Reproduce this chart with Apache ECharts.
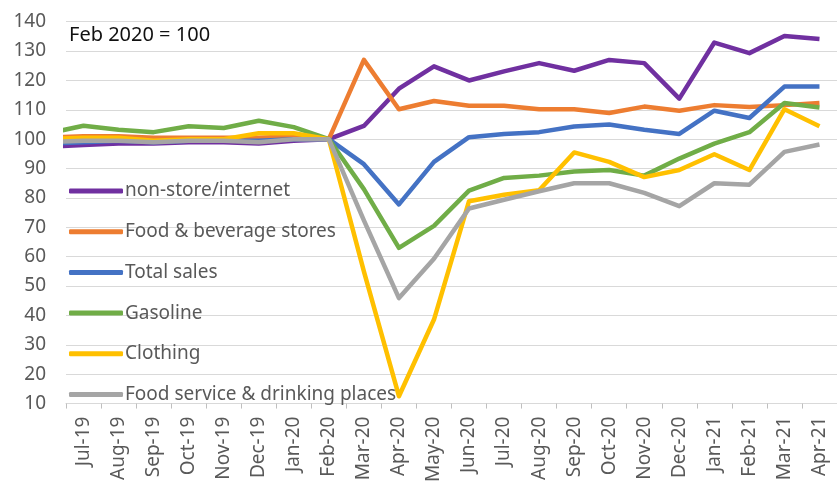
<!DOCTYPE html>
<html>
<head>
<meta charset="utf-8">
<script src="https://cdn.jsdelivr.net/npm/echarts@6/dist/echarts.min.js"></script>
<style>
html,body{margin:0;padding:0;background:#fff;}
#chart{width:837px;height:485px;}
</style>
</head>
<body>
<div id="chart"></div>
<script>
// Visible month labels (Jul-19 .. Apr-21)
var months = ['Jul-19','Aug-19','Sep-19','Oct-19','Nov-19','Dec-19','Jan-20','Feb-20','Mar-20','Apr-20','May-20','Jun-20','Jul-20','Aug-20','Sep-20','Oct-20','Nov-20','Dec-20','Jan-21','Feb-21','Mar-21','Apr-21'];
// Series values start one month earlier (Jun-19), which sits just outside the plot and is clipped
var firstMonthOffset = -1;
var nonStore   = [97.5, 98, 98.5, 98.5, 99, 99, 98.5, 99.5, 100, 104.5, 117.2, 124.8, 120, 123.1, 125.9, 123.3, 127, 125.9, 113.8, 132.9, 129.3, 135.1, 134.1];
var foodBev    = [100.5, 101, 101, 100.5, 100.5, 100.5, 100.5, 101, 100, 127, 110.2, 113, 111.4, 111.4, 110.2, 110.2, 108.9, 111.1, 109.7, 111.6, 111, 111.6, 112.3];
var totalSales = [98.5, 99, 99.5, 99, 99.5, 99.5, 99.5, 100, 100, 91.5, 77.8, 92.3, 100.7, 101.8, 102.4, 104.3, 105, 103.2, 101.8, 109.7, 107.2, 117.9, 117.9];
var gasoline   = [102, 104.6, 103.2, 102.4, 104.4, 103.8, 106.3, 104.1, 100, 83, 63, 70.5, 82.5, 86.8, 87.6, 89, 89.5, 87.6, 93.4, 98.5, 102.4, 112.3, 110.8];
var clothing   = [100, 100.5, 100.5, 99.5, 100, 100, 102, 102, 100, 55, 12.5, 38.6, 78.9, 81.1, 82.6, 95.5, 92.3, 87.1, 89.5, 94.9, 89.5, 110.2, 104.4];
var foodSvc    = [99, 99.5, 99.5, 99, 99.5, 99.5, 99, 100, 100, 72.4, 45.9, 59.3, 76.4, 79.4, 82.3, 85, 85, 81.7, 77.2, 85, 84.5, 95.7, 98.2];
var yTicks = {min: 10, max: 140, step: 10};

var seriesDefs = [
  {name: 'non-store/internet', data: nonStore, color: '#7030a0'},
  {name: 'Food & beverage stores', data: foodBev, color: '#ed7d31'},
  {name: 'Total sales', data: totalSales, color: '#4472c4'},
  {name: 'Gasoline', data: gasoline, color: '#70ad47'},
  {name: 'Clothing', data: clothing, color: '#ffc000'},
  {name: 'Food service & drinking places', data: foodSvc, color: '#a5a5a5'}
];

var FONT = 'Noto Sans';
var chart = echarts.init(document.getElementById('chart'), null, {renderer: 'canvas'});
chart.setOption({
  animation: false,
  backgroundColor: '#fff',
  grid: {left: 66, right: -7, top: 21.7, bottom: 76.5, containLabel: false},
  graphic: [{
    type: 'text', left: 69, top: 25,
    style: {text: 'Feb 2020 = 100', fontSize: 20, fontFamily: FONT, fill: '#111'}
  }],
  legend: {
    orient: 'vertical', left: 64, top: 176,
    icon: 'roundRect', itemWidth: 54, itemHeight: 5, itemGap: 20.7,
    textStyle: {fontSize: 19, fontFamily: FONT, color: '#595959', lineHeight: 20, padding: [0,0,0,-3]},
    data: seriesDefs.map(function(s){return s.name;})
  },
  xAxis: [{
    type: 'category', data: months, boundaryGap: true,
    axisLine: {lineStyle: {color: '#d9d9d9', width: 1.2}},
    axisTick: {show: true, length: 5, lineStyle: {color: '#bfbfbf'}},
    axisLabel: {rotate: 90, fontSize: 19, fontFamily: FONT, color: '#595959', margin: 13, interval: 0}
  }, {
    type: 'value', min: -0.5, max: months.length - 0.5, show: false,
    splitLine: {show: false}
  }],
  yAxis: {
    type: 'value', min: yTicks.min, max: yTicks.max, interval: yTicks.step,
    axisLine: {show: false}, axisTick: {show: false},
    axisLabel: {fontSize: 19, fontFamily: FONT, color: '#595959', margin: 20},
    splitLine: {lineStyle: {color: '#d9d9d9', width: 1.2}}
  },
  series: seriesDefs.map(function(s){
    return {
      name: s.name, type: 'line', xAxisIndex: 1, clip: true,
      data: s.data.map(function(v, i){ return [i + firstMonthOffset, v]; }),
      showSymbol: false, symbol: 'none',
      color: s.color,
      lineStyle: {color: s.color, width: 4.5, join: 'round'},
      itemStyle: {color: s.color}
    };
  })
});
</script>
</body>
</html>
